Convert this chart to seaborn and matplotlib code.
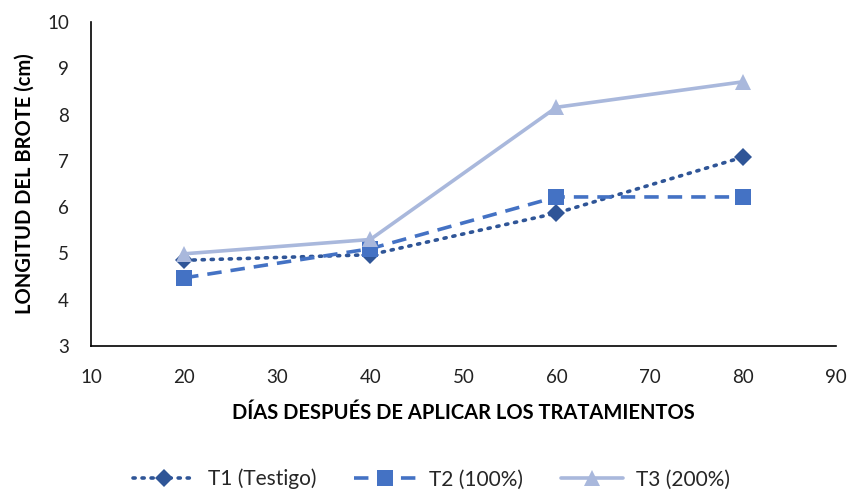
import matplotlib
matplotlib.use("Agg")
import matplotlib.pyplot as plt
import seaborn as sns
import pandas as pd

# Días después de aplicar los tratamientos
dias = [20, 40, 60, 80]

# Longitud del brote (cm) por tratamiento
t1_testigo = [4.85, 4.97, 5.87, 7.08]
t2_100 = [4.47, 5.10, 6.22, 6.22]
t3_200 = [4.99, 5.30, 8.16, 8.71]

series_names = ["T1 (Testigo)", "T2 (100%)", "T3 (200%)"]
x_ticks = [10, 20, 30, 40, 50, 60, 70, 80, 90]
y_ticks = [3, 4, 5, 6, 7, 8, 9, 10]

df = pd.DataFrame({
    "dias": dias * 3,
    "longitud": t1_testigo + t2_100 + t3_200,
    "tratamiento": [series_names[0]] * 4 + [series_names[1]] * 4 + [series_names[2]] * 4,
})

sns.set_theme(style="white")
plt.rcParams["font.family"] = ["Lato", "DejaVu Sans"]

fig = plt.figure(figsize=(8.51, 4.94), dpi=100)
ax = fig.add_axes([0.107, 0.300, 0.875, 0.655])

styles = {
    series_names[0]: dict(color="#2F5597", linestyle=(0, (0.6, 1.9)), marker="D", markersize=9, dash_capstyle="round"),
    series_names[1]: dict(color="#4472C4", linestyle=(0, (4, 2.5)), marker="s", markersize=11),
    series_names[2]: dict(color="#A9B8DC", linestyle="-", marker="^", markersize=11),
}

for name in series_names:
    sub = df[df["tratamiento"] == name]
    st = styles[name]
    sns.lineplot(data=sub, x="dias", y="longitud", ax=ax, label=name,
                 color=st["color"], linestyle=st["linestyle"], marker=st["marker"],
                 markersize=st["markersize"], markeredgewidth=0, linewidth=2.6,
                 dash_capstyle=st.get("dash_capstyle", "butt"))

ax.set_xlim(10, 90)
ax.set_ylim(3, 10)
ax.set_xticks(x_ticks)
ax.set_yticks(y_ticks)
ax.tick_params(axis="x", labelsize=13.5, length=0, pad=17, colors="#222222")
ax.tick_params(axis="y", labelsize=13.5, length=0, pad=16, colors="#222222")
for side in ["top", "right"]:
    ax.spines[side].set_visible(False)
for side in ["left", "bottom"]:
    ax.spines[side].set_color("#000000")
    ax.spines[side].set_linewidth(1.2)

ax.set_xlabel("DÍAS DESPUÉS DE APLICAR LOS TRATAMIENTOS", fontsize=14.5,
              fontweight="bold", color="#000000", labelpad=12)
ax.set_ylabel("LONGITUD DEL BROTE (cm)", fontsize=14.5, fontweight="bold",
              color="#000000", labelpad=9)

ax.legend(loc="center", bbox_to_anchor=(0.507, 0.030), bbox_transform=fig.transFigure,
          ncol=3, frameon=False, fontsize=15, handlelength=3.0, columnspacing=1.8,
          handletextpad=0.6)

fig.savefig("out.png", dpi=100)
